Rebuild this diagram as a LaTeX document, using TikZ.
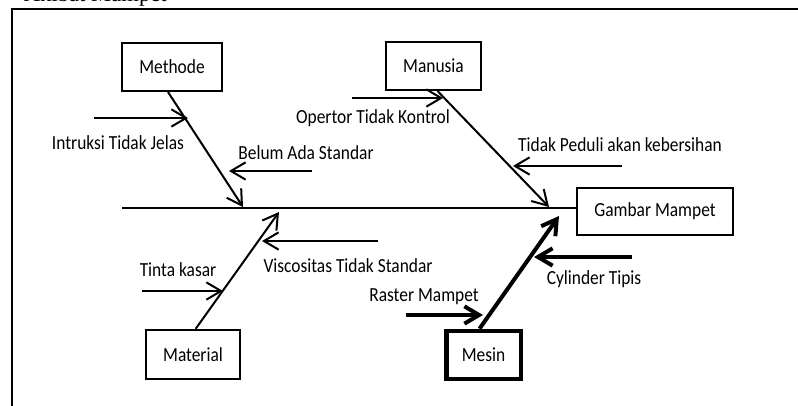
\documentclass[tikz,border=0pt]{standalone}
\usepackage{fontspec}
\setmainfont{Carlito}[FakeStretch=0.87]
\newfontfamily\titlefont{Liberation Serif}
\usetikzlibrary{arrows.meta}

\begin{document}
\begin{tikzpicture}[x=0.75pt,y=-0.75pt,
    font=\fontsize{15}{17}\selectfont,
    causebox/.style={draw,line width=1.5pt,inner sep=0pt},
    bone/.style={line width=1.5pt},
    subarrow/.style={line width=1.5pt,-{Straight Barb[length=11pt,width=13pt]}}]

        \useasboundingbox (0,0) rectangle (798,406);
        \clip (0,0) rectangle (798,406);

        % frame and cut title
        \draw[line width=2.2pt] (12,420) -- (12,9) -- (810,9);
        \node[font=\titlefont\fontsize{17}{19}\selectfont, anchor=base east, inner sep=0pt] (ttl) at (167,1.5) {Akibat Mampet};

        % head and spine
        \node[causebox,minimum width=117pt,minimum height=35pt] (gm) at (655,211.5) {Gambar Mampet};
        \coordinate (sp) at (122,208);
        \draw[bone] (sp) -- (sp -| gm.west);

        % categories
        \node[causebox,minimum width=75pt,minimum height=36pt] (meth) at (172,67) {Methode};
        \node[causebox,minimum width=71pt,minimum height=36pt] (manu) at (433.5,66) {Manusia};
        \node[causebox,minimum width=70.5pt,minimum height=37pt] (mat) at (193,354.5) {Material};
        \node[causebox,line width=3.5pt,minimum width=56pt,minimum height=36pt] (mes) at (483.5,355) {Mesin};

        % bones
        \coordinate (tmeth) at (243,207);
        \coordinate (tmanu) at (549,207);
        \coordinate (tmat) at (279,212);
        \coordinate (tmes) at (559,216);
        \draw[subarrow] ([xshift=-3pt]meth.south) -- (tmeth);
        \draw[subarrow] ([xshift=3pt]manu.south) -- (tmanu);
        \draw[subarrow] ([xshift=2pt]mat.north) -- (tmat);
        \draw[subarrow,line width=3pt] ([xshift=-3pt]mes.north) -- (tmes);

        % sub causes
        \coordinate (a1) at (94,118);   \coordinate (b1) at (188,118);
        \coordinate (a2) at (312,171);  \coordinate (b2) at (229,171);
        \coordinate (a3) at (352,98);   \coordinate (b3) at (443,98);
        \coordinate (a4) at (622,166);  \coordinate (b4) at (513,166);
        \coordinate (a5) at (142,291);  \coordinate (b5) at (223,291);
        \coordinate (a6) at (378,241);  \coordinate (b6) at (262,241);
        \coordinate (a7) at (406,315);  \coordinate (b7) at (483,315);
        \coordinate (a8) at (632,257);  \coordinate (b8) at (534,257);
        \draw[subarrow] (a1) -- (b1);
        \draw[subarrow] (a2) -- (b2);
        \draw[subarrow] (a3) -- (b3);
        \draw[subarrow] (a4) -- (b4);
        \draw[subarrow] (a5) -- (b5);
        \draw[subarrow] (a6) -- (b6);
        \draw[subarrow,line width=3pt] (a7) -- (b7);
        \draw[subarrow,line width=3pt] (a8) -- (b8);

        % labels
        \node (l1) at (118,143) {Intruksi Tidak Jelas};
        \node (l2) at (306,153) {Belum Ada Standar};
        \node (l3) at (373,118) {Opertor Tidak Kontrol};
        \node (l4) at (620,145) {Tidak Peduli akan kebersihan};
        \node (l5) at (178,270) {Tinta kasar};
        \node (l6) at (348,266) {Viscositas Tidak Standar};
        \node (l7) at (424,297) {Raster Mampet};
        \node (l8) at (594,279) {Cylinder Tipis};
      \end{tikzpicture}
\end{document}
